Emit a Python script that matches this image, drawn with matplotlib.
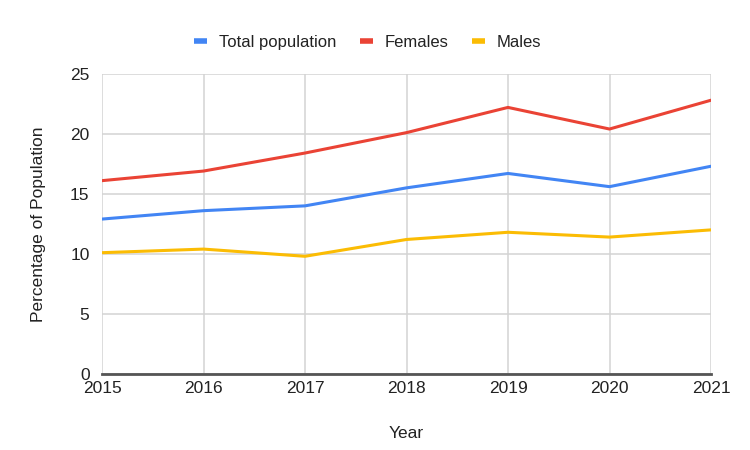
import matplotlib
matplotlib.use("Agg")
import matplotlib.pyplot as plt

years = [2015, 2016, 2017, 2018, 2019, 2020, 2021]
total = [12.9, 13.6, 14.0, 15.5, 16.7, 15.6, 17.3]
females = [16.1, 16.9, 18.4, 20.1, 22.2, 20.4, 22.8]
males = [10.1, 10.4, 9.8, 11.2, 11.8, 11.4, 12.0]
yticks = [0, 5, 10, 15, 20, 25]

plt.rcParams['font.family'] = ['Liberation Sans', 'DejaVu Sans']

fig = plt.figure(figsize=(7.5, 4.5), dpi=100)
ax = fig.add_axes([0.136, 0.169, 0.812, 0.667])

ax.plot(years, total, color='#4285F4', lw=2.2, label='Total population', solid_capstyle='round', zorder=3)
ax.plot(years, females, color='#EA4335', lw=2.2, label='Females', solid_capstyle='round', zorder=3)
ax.plot(years, males, color='#FBBC04', lw=2.2, label='Males', solid_capstyle='round', zorder=3)

ax.set_xlim(2015, 2021)
ax.set_ylim(0, 25)
ax.set_xticks(years)
ax.set_yticks(yticks)
ax.grid(True, color='#d3d3d3', lw=1.1, zorder=0)
for s in ['left', 'right', 'top']:
    ax.spines[s].set_visible(False)
ax.spines['bottom'].set_color('#555555')
ax.spines['bottom'].set_linewidth(2)
ax.spines['bottom'].set_zorder(4)
ax.tick_params(axis='both', length=0, labelsize=12.5, labelcolor='#222222')
ax.tick_params(axis='x', pad=5)
ax.tick_params(axis='y', pad=9)

ax.set_xlabel('Year', fontsize=12.5, color='#222222', labelpad=22)
ax.set_ylabel('Percentage of Population', fontsize=12.5, color='#222222', labelpad=17)

leg = fig.legend(loc='center', bbox_to_anchor=(0.49, 0.905), ncol=3, frameon=False,
                 fontsize=12, handlelength=0.8, handletextpad=0.7, columnspacing=1.4)
for line in leg.get_lines():
    line.set_linewidth(4)
    line.set_solid_capstyle('butt')
for t in leg.get_texts():
    t.set_color('#222222')

fig.savefig('out.png', dpi=100)
